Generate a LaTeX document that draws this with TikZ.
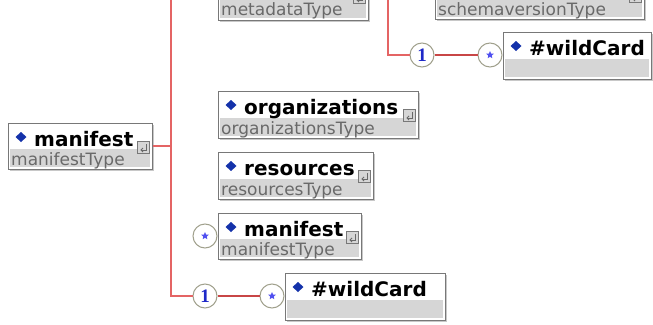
\documentclass[tikz,border=0pt]{standalone}
\usepackage{fontspec}
\setmainfont{DejaVu Sans}
\newfontfamily\numfont{Liberation Serif}
\usetikzlibrary{fit,shapes.geometric}
\definecolor{frameC}{RGB}{120,120,120}
\definecolor{shadowC}{RGB}{200,200,200}
\definecolor{bandC}{RGB}{214,214,214}
\definecolor{typeC}{RGB}{105,105,105}
\definecolor{diamC}{RGB}{20,50,170}
\definecolor{redC}{RGB}{228,100,100}
\definecolor{red2C}{RGB}{200,70,70}
\definecolor{occC}{RGB}{160,160,140}
\definecolor{numC}{RGB}{30,40,200}
\definecolor{starC}{RGB}{80,80,240}
\tikzset{
  elframe/.style={draw=frameC, line width=1pt, fill=white, inner sep=0pt, rectangle},
  boxshadow/.style={fill=shadowC},
  bandfill/.style={fill=bandC},
  titletext/.style={font=\fontsize{20}{20}\selectfont\bfseries, text=black, inner sep=0pt},
  typetext/.style={font=\fontsize{17}{17}\selectfont, text=typeC, inner sep=0pt},
  diamfill/.style={fill=diamC},
  iconbox/.style={draw=frameC, fill=bandC, line width=0.8pt},
  redline/.style={draw=redC, line width=2.4pt},
  thinred/.style={draw=red2C, line width=1.3pt},
  occ/.style={circle, draw=occC, fill=white, line width=1pt, minimum size=24pt, inner sep=0pt},
  numtext/.style={font=\numfont\fontsize{19}{19}\selectfont\bfseries, text=numC},
  starmark/.style={star, star points=5, star point ratio=2.2, fill=starC, minimum size=8pt, inner sep=0pt},
}
% name, x1, y1, x2, y2, title, type, icon(0/1)
\newcommand\elbox[8]{%
  \fill[boxshadow] (#2+1.5,#3+1.5) rectangle (#4+1.5,#5+1.5);
  \node[elframe, fit={(#2,#3) (#4,#5)}] (#1) {};
  \fill[bandfill] (#2+2,#5-2) rectangle (#4-2,#5-20);
  \fill[diamfill] (#2+13,#3+9) -- (#2+18.5,#3+14) -- (#2+13,#3+19) -- (#2+7.5,#3+14) -- cycle;
  \node[titletext, anchor=base west] (#1-title) at (#2+26,#3+23) {#6};
  \node[typetext, anchor=base west] (#1-type) at (#2+3,#5-4) {#7};
  \ifnum#8=1
    \draw[iconbox] (#4-15,#3+18) rectangle (#4-3,#3+30);
    \draw[draw=typeC, line width=0.9pt] (#4-6,#3+21) -- (#4-6,#3+27) -- (#4-11,#3+27);
    \draw[draw=typeC, line width=0.9pt] (#4-9,#3+25) -- (#4-11,#3+27) -- (#4-9,#3+29);
  \fi
}
\begin{document}
\begin{tikzpicture}[x=1pt,y=-1pt]
\useasboundingbox (0,0) rectangle (653,324);
\clip (0,0) rectangle (653,324);
\fill[white] (0,0) rectangle (653,324);

% partially visible top boxes (only their lower band shows)
\elbox{meta}{218}{-27}{368}{20}{}{metadataType}{1}
\elbox{schema}{435}{-28}{644}{19}{}{schemaversionType}{1}

% main elements
\elbox{lman}{8}{123}{152}{169}{manifest}{manifestType}{1}
\elbox{orgs}{218}{91}{418}{138}{organizations}{organizationsType}{1}
\elbox{res}{218}{152}{373}{199}{resources}{resourcesType}{1}
\elbox{mman}{218}{213}{361}{259}{manifest}{manifestType}{1}
\elbox{wc1}{503}{32}{651}{79}{\#wildCard}{}{0}
\elbox{wc2}{285}{273}{445}{320}{\#wildCard}{}{0}

% connector coordinates
\coordinate (vtop) at (171,-2);
\coordinate (vbot) at (171,296);
\coordinate (vtop2) at (388,-2);

% occurrence circles
\node[occ] (one1) at (205,296) {};
\node[numtext] (one1-t) at (one1) {1};
\node[occ] (any1) at (272,296) {};
\node[starmark] (any1-s) at (any1) {};
\node[occ] (one2) at (422,55) {};
\node[numtext] (one2-t) at (one2) {1};
\node[occ] (any2) at (490,55) {};
\node[starmark] (any2-s) at (any2) {};
\node[occ] (any3) at (205,236) {};
\node[starmark] (any3-s) at (any3) {};

% connectors
\draw[redline] (lman.east) -- (lman.east -| vtop);
\draw[redline] (vtop) -- (vbot) -- (one1.west);
\draw[thinred] (one1.east) -- (any1.west);
\draw[redline] (vtop2) |- (one2.west);
\draw[thinred] (one2.east) -- (any2.west);
\end{tikzpicture}
\end{document}
